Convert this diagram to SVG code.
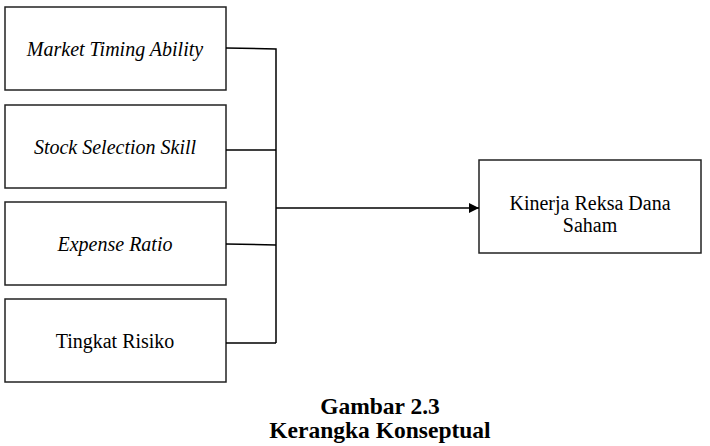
<svg xmlns="http://www.w3.org/2000/svg" width="710" height="446" viewBox="0 0 710 446">
<style>
.box{fill:#fff;stroke:#222;stroke-width:1.5}
.t{font-family:'Liberation Serif','Times New Roman',serif;font-size:20px;fill:#000;text-anchor:middle}
.i{font-style:italic}
.c{font-family:'Liberation Serif','Times New Roman',serif;font-size:23.5px;font-weight:bold;fill:#000;text-anchor:middle}
.ln{stroke:#000;stroke-width:1.5;fill:none}
</style>
<defs>
<marker id="ah" viewBox="0 0 10 10" refX="10" refY="5" markerWidth="10" markerHeight="10" markerUnits="userSpaceOnUse" orient="auto">
<path d="M0,0 L10,5 L0,10 z" fill="#000"/>
</marker>
</defs>
<rect width="710" height="446" fill="#fff"/>
<g id="n1"><rect class="box" x="5" y="7" width="221" height="83"/><text class="t i" x="115" y="56">Market Timing Ability</text></g>
<g id="n2"><rect class="box" x="5" y="105" width="221" height="83"/><text class="t i" x="115" y="154">Stock Selection Skill</text></g>
<g id="n3"><rect class="box" x="5" y="202" width="221" height="83"/><text class="t i" x="115" y="251">Expense Ratio</text></g>
<g id="n4"><rect class="box" x="5" y="299" width="221" height="83"/><text class="t" x="115" y="348">Tingkat Risiko</text></g>
<g id="n5"><rect class="box" x="479" y="160" width="222" height="93"/><text class="t" x="590" y="210">Kinerja Reksa Dana</text><text class="t" x="590" y="232">Saham</text></g>
<g id="connectors">
<path class="ln" d="M226,48 L276,49 L276,343 M226,150 L276,150 M226,244 L276,245 M226,343 L276,343"/>
<path class="ln" d="M276,208 L479,208" marker-end="url(#ah)"/>
</g>
<g id="caption">
<text class="c" x="380" y="414">Gambar 2.3</text>
<text class="c" x="380" y="438">Kerangka Konseptual</text>
</g>
</svg>
